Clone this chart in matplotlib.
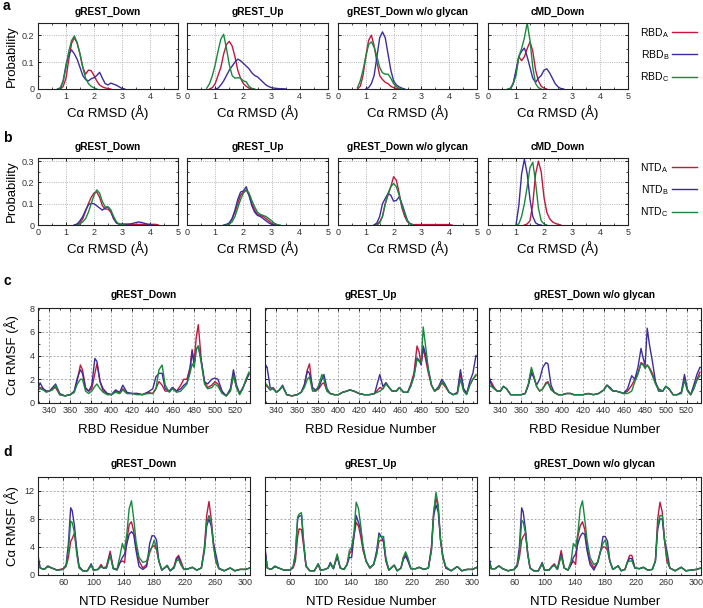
import numpy as np
import matplotlib
matplotlib.use("Agg")
import matplotlib.pyplot as plt
from matplotlib.ticker import MultipleLocator

plt.rcParams['font.family'] = ['Liberation Sans', 'DejaVu Sans']

RED = '#c4163f'
BLUE = '#3b2d9e'
GREEN = '#17893c'

# ---------------- RMSD distributions (a: RBD, b: NTD) ----------------
titles_ab = ['gREST_Down', 'gREST_Up', 'gREST_Down w/o glycan', 'cMD_Down']
rmsd_x_a = np.round(np.arange(0.7, 3.65, 0.1), 1)
rmsd_x_b = np.round(np.arange(1.0, 4.55, 0.1), 1)

# panel a, values from 0.7 on, padded with zeros
a_red = [
    [0, 0, 0.01, 0.04, 0.11, 0.17, 0.19, 0.17, 0.13, 0.08, 0.055, 0.07, 0.068, 0.05, 0.03, 0.015, 0.008, 0.004, 0.002],
    [0, 0, 0.005, 0.02, 0.05, 0.08, 0.13, 0.165, 0.177, 0.16, 0.12, 0.07, 0.04, 0.02, 0.01, 0.003],
    [0, 0.01, 0.05, 0.12, 0.18, 0.2, 0.16, 0.1, 0.05, 0.035, 0.025, 0.02, 0.01, 0.005, 0.002],
    [0, 0, 0.02, 0.06, 0.12, 0.105, 0.12, 0.15, 0.175, 0.14, 0.07, 0.03, 0.01, 0.003],
]
a_blue = [
    [0, 0.002, 0.03, 0.09, 0.13, 0.145, 0.13, 0.11, 0.08, 0.05, 0.035, 0.03, 0.038, 0.042, 0.05, 0.062,
     0.04, 0.02, 0.015, 0.022, 0.018, 0.014, 0.008, 0.002],
    [0, 0, 0, 0, 0.003, 0.015, 0.03, 0.05, 0.07, 0.085, 0.1, 0.111, 0.105, 0.095, 0.085, 0.075, 0.06,
     0.05, 0.045, 0.035, 0.025, 0.015, 0.009, 0.005, 0.003, 0.002, 0.001, 0.001],
    [0, 0, 0, 0, 0.005, 0.02, 0.05, 0.12, 0.19, 0.212, 0.19, 0.13, 0.07, 0.03, 0.015, 0.008, 0.003],
    [0, 0, 0.02, 0.07, 0.12, 0.14, 0.152, 0.12, 0.08, 0.04, 0.025, 0.04, 0.05, 0.07, 0.075, 0.06, 0.04,
     0.02, 0.008, 0.002],
]
a_green = [
    [0, 0.005, 0.03, 0.08, 0.14, 0.18, 0.197, 0.17, 0.13, 0.08, 0.04, 0.02, 0.01, 0.004],
    [0.003, 0.02, 0.05, 0.09, 0.14, 0.185, 0.203, 0.15, 0.09, 0.05, 0.04, 0.042, 0.04, 0.03, 0.027, 0.01, 0.002],
    [0.005, 0.03, 0.07, 0.12, 0.165, 0.175, 0.155, 0.12, 0.08, 0.06, 0.055, 0.055, 0.04, 0.02, 0.008, 0.002],
    [0, 0.003, 0.02, 0.05, 0.12, 0.15, 0.19, 0.245, 0.18, 0.08, 0.02, 0.005],
]

# panel b, values from 1.0 on
b_red = [
    [0, 0, 0, 0, 0.003, 0.01, 0.03, 0.065, 0.1, 0.13, 0.15, 0.156, 0.13, 0.09, 0.075, 0.075, 0.06, 0.03,
     0.01, 0.004] + [0.003] * 13,
    [0, 0, 0, 0, 0, 0.008, 0.03, 0.06, 0.1, 0.14, 0.155, 0.165, 0.14, 0.1, 0.07, 0.05, 0.045, 0.04, 0.03,
     0.02, 0.008, 0.002],
    [0, 0, 0, 0, 0.005, 0.015, 0.04, 0.1, 0.14, 0.18, 0.227, 0.21, 0.15, 0.08, 0.04, 0.015, 0.005] + [0.002] * 14,
    [0, 0, 0, 0, 0.005, 0.02, 0.1, 0.24, 0.3, 0.25, 0.13, 0.06, 0.03, 0.015, 0.008, 0.003],
]
b_blue = [
    [0, 0, 0, 0, 0.005, 0.02, 0.04, 0.07, 0.095, 0.102, 0.1, 0.09, 0.08, 0.07, 0.08, 0.085, 0.07, 0.03,
     0.01, 0.004, 0.004, 0.004, 0.004, 0.005, 0.008, 0.012, 0.014, 0.012, 0.008, 0.004, 0.002],
    [0, 0, 0, 0, 0.003, 0.01, 0.03, 0.07, 0.12, 0.155, 0.16, 0.18, 0.14, 0.09, 0.06, 0.045, 0.04, 0.03,
     0.02, 0.01, 0.003],
    [0, 0, 0, 0, 0.01, 0.04, 0.1, 0.125, 0.148, 0.14, 0.112, 0.115, 0.133, 0.1, 0.06, 0.02, 0.005],
    [0, 0.09, 0.24, 0.31, 0.24, 0.12, 0.04, 0.01, 0.002],
]
b_green = [
    [0, 0, 0, 0, 0, 0.005, 0.015, 0.03, 0.06, 0.1, 0.14, 0.165, 0.15, 0.11, 0.085, 0.085, 0.07, 0.04,
     0.015, 0.005, 0.001],
    [0, 0, 0, 0, 0, 0.004, 0.015, 0.04, 0.08, 0.12, 0.15, 0.165, 0.15, 0.115, 0.085, 0.06, 0.05, 0.045,
     0.04, 0.03, 0.02, 0.008, 0.002],
    [0, 0, 0, 0, 0, 0.01, 0.04, 0.1, 0.15, 0.18, 0.195, 0.18, 0.14, 0.09, 0.05, 0.02, 0.005],
    [0, 0.005, 0.04, 0.1, 0.18, 0.27, 0.295, 0.2, 0.08, 0.02, 0.005],
]

# ---------------- RMSF (c: RBD, d: NTD) ----------------
titles_cd = ['gREST_Down', 'gREST_Up', 'gREST_Down w/o glycan']
rbd_res = [329, 331, 334, 337, 340, 343, 346, 350, 355, 360,
           364, 367, 370, 372, 375, 378, 381, 384, 386, 389,
           392, 396, 400, 404, 408, 411, 415, 420, 425, 430,
           435, 440, 443, 446, 449, 452, 456, 459, 463, 467,
           470, 473, 476, 478, 480, 482, 484, 487, 490, 493,
           497, 500, 503, 507, 511, 515, 518, 521, 524, 527,
           530, 533]
c_red = [
    [1.2, 1.3, 1.2, 1.0, 1.0, 1.2, 1.3, 0.7, 0.6, 0.7, 0.9, 1.9, 3.2, 2.8, 1.3, 1.0, 1.2, 2.5, 3.3, 1.8,
     1.0, 0.8, 0.7, 1.0, 0.8, 1.2, 0.8, 0.8, 0.8, 0.7, 0.9, 0.8, 1.2, 1.8, 1.5, 1.0, 1.0, 1.3, 1.0, 1.5,
     2.0, 2.0, 3.0, 4.5, 3.5, 5.5, 6.6, 3.5, 1.8, 1.3, 1.5, 1.8, 1.6, 0.9, 0.6, 1.0, 2.4, 1.3, 0.8, 1.3,
     1.8, 2.5],
    [1.5, 1.4, 1.1, 1.3, 0.9, 1.1, 1.4, 0.7, 0.6, 0.7, 0.9, 1.5, 2.8, 3.3, 1.1, 1.0, 1.2, 1.6, 1.7, 1.0,
     0.8, 0.7, 0.7, 0.9, 1.0, 1.1, 1.0, 0.8, 0.7, 0.7, 0.8, 1.3, 1.2, 1.7, 1.3, 1.0, 1.0, 1.3, 0.9, 0.9,
     1.6, 2.5, 4.8, 4.3, 3.3, 4.6, 3.8, 2.5, 1.5, 1.0, 1.2, 1.7, 1.4, 0.9, 0.7, 0.8, 2.5, 1.2, 0.8, 1.5,
     2.0, 2.3],
    [1.8, 1.8, 1.3, 1.0, 1.0, 1.4, 1.2, 0.7, 0.7, 0.7, 0.8, 1.5, 2.8, 2.3, 1.4, 1.0, 1.2, 1.7, 1.8, 1.2,
     0.9, 0.7, 0.7, 0.8, 0.8, 0.7, 0.7, 0.7, 0.8, 0.7, 0.8, 1.1, 1.5, 1.3, 1.0, 1.0, 0.9, 0.8, 1.0, 1.5,
     2.0, 2.5, 3.4, 3.3, 3.0, 3.2, 3.0, 2.5, 1.7, 1.2, 1.0, 1.4, 1.2, 0.7, 0.7, 0.9, 2.0, 1.1, 0.7, 1.2,
     2.0, 2.6],
]
c_blue = [
    [1.2, 1.7, 1.2, 1.0, 1.0, 1.3, 1.6, 0.8, 0.6, 0.7, 1.0, 2.1, 2.8, 2.5, 1.2, 1.0, 1.5, 3.75, 3.5, 1.8,
     1.2, 0.8, 0.7, 1.1, 0.9, 1.5, 0.9, 0.8, 0.8, 0.7, 0.9, 1.2, 2.2, 2.5, 2.5, 1.2, 1.0, 1.3, 1.0, 1.2,
     1.5, 1.7, 2.8, 4.3, 3.2, 4.5, 4.8, 3.5, 1.8, 1.6, 2.0, 2.1, 2.0, 1.0, 0.6, 1.2, 2.8, 1.5, 0.8, 1.2,
     1.9, 2.4],
    [3.3, 3.0, 1.3, 1.2, 0.9, 1.1, 1.5, 0.7, 0.6, 0.7, 0.9, 1.5, 2.7, 2.5, 1.3, 1.1, 1.3, 2.0, 2.4, 1.2,
     0.8, 0.7, 0.7, 0.9, 1.0, 1.1, 1.0, 0.8, 0.7, 0.7, 0.8, 2.4, 1.4, 1.7, 1.3, 1.0, 1.0, 1.3, 0.9, 0.9,
     1.5, 2.3, 3.8, 3.6, 3.2, 4.8, 4.2, 2.8, 1.5, 1.0, 1.4, 2.0, 1.6, 0.9, 0.7, 0.9, 2.8, 1.2, 0.8, 1.8,
     2.5, 4.0],
    [2.3, 1.6, 1.2, 1.0, 1.0, 1.4, 1.2, 0.7, 0.7, 0.7, 0.8, 1.5, 2.5, 2.2, 1.5, 2.0, 3.0, 3.4, 3.3, 1.5,
     0.9, 0.7, 0.7, 0.8, 0.8, 0.7, 0.7, 0.7, 0.8, 0.7, 0.8, 1.1, 1.5, 1.3, 1.0, 1.0, 0.9, 0.8, 1.2, 2.3,
     2.0, 3.0, 4.6, 3.8, 3.2, 6.3, 5.0, 3.5, 1.8, 1.0, 1.0, 1.4, 1.2, 0.7, 0.7, 0.9, 2.4, 1.1, 0.7, 1.5,
     2.4, 3.0],
]
c_green = [
    [1.1, 1.2, 1.1, 0.9, 1.0, 1.1, 1.5, 0.7, 0.6, 0.7, 0.9, 1.6, 2.0, 2.0, 1.0, 0.8, 1.0, 1.4, 1.6, 1.2,
     0.9, 0.7, 0.7, 0.9, 0.8, 1.1, 0.8, 0.8, 0.7, 0.7, 0.8, 0.8, 1.2, 2.8, 3.2, 1.5, 0.9, 1.2, 0.9, 1.0,
     1.3, 1.6, 2.5, 3.3, 3.0, 4.5, 4.8, 3.3, 1.6, 1.2, 1.3, 1.6, 1.4, 0.8, 0.6, 1.0, 2.3, 1.3, 0.7, 1.2,
     2.0, 2.6],
    [1.7, 1.5, 1.1, 1.2, 0.9, 1.1, 1.4, 0.7, 0.6, 0.7, 0.9, 1.3, 2.0, 2.2, 1.0, 1.0, 1.5, 2.4, 2.0, 1.0,
     0.8, 0.7, 0.7, 0.9, 1.0, 1.1, 1.0, 0.8, 0.7, 0.7, 0.8, 1.0, 1.2, 1.6, 1.3, 1.0, 1.0, 1.3, 0.9, 0.9,
     1.4, 2.2, 3.7, 3.5, 3.4, 6.4, 5.0, 2.8, 1.5, 1.0, 1.3, 1.8, 1.5, 0.9, 0.7, 0.8, 2.0, 1.0, 0.7, 1.5,
     2.0, 2.4],
    [1.5, 1.4, 1.2, 1.0, 1.0, 1.4, 1.2, 0.7, 0.7, 0.7, 0.8, 1.6, 3.0, 2.4, 1.4, 1.0, 1.2, 1.6, 1.7, 1.1,
     0.9, 0.7, 0.7, 0.8, 0.8, 0.7, 0.7, 0.7, 0.8, 0.7, 0.8, 1.1, 1.5, 1.2, 1.0, 1.0, 0.9, 0.8, 0.8, 1.0,
     1.8, 2.4, 3.3, 3.2, 2.9, 3.2, 2.9, 2.3, 1.6, 1.1, 1.0, 1.4, 1.2, 0.7, 0.7, 0.8, 1.9, 1.0, 0.7, 1.2,
     1.9, 2.3],
]

ntd_res = [27, 30, 35, 40, 45, 52, 60, 64, 67, 70, 72, 75, 78, 81, 86, 92, 97, 100, 106, 110,
           113, 117, 122, 126, 131, 135, 138, 141, 144, 147, 150, 153, 156, 160, 165, 170, 174, 177, 180, 183,
           186, 190, 197, 201, 206, 209, 212, 215, 219, 225, 230, 236, 242, 246, 249, 252, 255, 258, 261, 265,
           272, 280, 286, 293, 300, 306]
d_red = [
    [1.5, 1.0, 0.8, 1.2, 1.0, 0.7, 0.9, 1.2, 2.5, 4.8, 5.2, 6.0, 3.5, 1.2, 0.6, 0.6, 1.4, 0.7, 0.8, 1.5,
     1.0, 1.2, 3.4, 1.0, 0.8, 1.8, 2.0, 1.8, 5.0, 7.2, 7.6, 6.2, 4.0, 2.0, 1.0, 1.5, 3.2, 4.0, 4.2, 3.6,
     2.0, 0.7, 1.3, 0.6, 1.2, 2.4, 2.8, 2.0, 0.8, 0.9, 1.1, 0.7, 1.0, 4.0, 8.5, 10.5, 8.0, 4.5, 2.0, 0.9,
     0.6, 1.0, 0.6, 0.8, 0.8, 1.0],
    [3.5, 1.0, 0.8, 1.2, 1.0, 0.7, 0.7, 1.0, 2.0, 5.5, 6.6, 6.5, 4.0, 1.2, 0.6, 0.6, 1.5, 0.7, 0.8, 1.0,
     1.6, 0.9, 2.8, 1.0, 0.8, 1.5, 3.0, 3.5, 5.5, 7.5, 7.0, 5.5, 3.5, 2.0, 1.0, 1.5, 3.0, 4.8, 5.0, 4.8,
     2.0, 0.7, 1.4, 0.6, 1.0, 2.5, 3.0, 2.2, 0.9, 0.9, 1.1, 0.8, 1.0, 4.0, 9.0, 11.0, 9.5, 5.0, 2.8, 1.0,
     0.6, 1.2, 0.6, 0.8, 0.8, 1.1],
    [2.0, 0.9, 0.9, 1.3, 0.9, 0.6, 0.8, 1.2, 2.5, 5.0, 5.5, 6.0, 3.0, 1.0, 0.6, 0.6, 1.6, 0.7, 0.7, 1.3,
     1.6, 0.8, 3.5, 1.0, 0.7, 1.5, 2.0, 1.5, 5.5, 7.0, 7.6, 6.5, 4.0, 2.0, 1.0, 1.8, 3.5, 4.0, 4.0, 3.5,
     2.0, 0.8, 1.3, 0.6, 0.8, 1.8, 2.8, 2.8, 1.0, 0.9, 1.1, 0.7, 0.8, 2.0, 8.0, 10.4, 9.0, 5.0, 2.0, 1.0,
     0.6, 1.1, 0.6, 0.7, 0.8, 1.0],
]
d_blue = [
    [2.8, 1.0, 0.8, 1.3, 1.0, 0.7, 0.8, 1.5, 4.5, 9.6, 9.2, 7.0, 3.5, 1.2, 0.6, 0.6, 1.6, 0.7, 0.8, 1.2,
     1.0, 1.0, 3.0, 0.9, 0.7, 1.8, 2.5, 3.0, 4.5, 5.8, 6.2, 5.8, 3.5, 1.2, 0.8, 1.2, 4.5, 5.6, 5.6, 5.0,
     2.0, 0.7, 1.3, 0.6, 1.0, 2.2, 2.6, 1.5, 0.8, 0.9, 1.1, 0.7, 1.0, 3.5, 7.0, 8.0, 7.0, 4.5, 3.0, 1.0,
     0.6, 1.0, 0.6, 0.8, 0.8, 1.0],
    [4.0, 1.0, 0.8, 1.2, 1.0, 0.7, 0.7, 1.2, 3.0, 8.0, 8.4, 8.5, 4.5, 1.3, 0.6, 0.6, 1.6, 0.7, 0.8, 1.0,
     1.8, 0.9, 2.6, 1.0, 0.8, 1.5, 2.5, 2.5, 5.5, 8.5, 7.5, 6.5, 4.0, 2.0, 1.0, 1.5, 3.5, 6.0, 5.5, 4.8,
     2.2, 0.7, 1.4, 0.6, 1.0, 2.2, 2.7, 2.0, 0.9, 0.9, 1.1, 0.8, 1.0, 3.5, 8.5, 10.0, 9.0, 5.0, 2.5, 1.0,
     0.6, 1.2, 0.6, 0.8, 0.8, 1.1],
    [2.5, 0.9, 0.9, 1.3, 0.9, 0.6, 0.8, 1.5, 4.0, 9.6, 9.0, 6.5, 3.0, 1.0, 0.6, 0.6, 1.8, 0.7, 0.7, 1.2,
     1.4, 0.8, 3.0, 1.0, 0.7, 1.5, 2.5, 3.0, 4.5, 5.5, 6.0, 5.8, 3.5, 1.5, 0.7, 1.8, 3.5, 5.5, 5.5, 4.8,
     2.0, 0.8, 1.3, 0.6, 0.8, 1.8, 2.4, 2.3, 1.0, 0.9, 1.1, 0.7, 0.8, 2.0, 6.5, 8.0, 8.0, 5.0, 3.5, 1.0,
     0.6, 1.1, 0.6, 0.7, 0.8, 1.0],
]
d_green = [
    [1.5, 1.0, 0.8, 1.2, 1.0, 0.7, 0.8, 1.3, 3.5, 7.7, 7.5, 6.0, 3.0, 1.0, 0.6, 0.6, 1.4, 0.7, 0.8, 1.2,
     1.0, 1.0, 2.8, 0.9, 0.8, 2.8, 4.5, 3.6, 6.0, 9.5, 10.6, 8.0, 4.8, 2.5, 1.8, 2.0, 3.5, 4.0, 5.0, 3.8,
     2.0, 0.7, 1.4, 0.6, 1.0, 2.0, 2.2, 1.5, 0.8, 0.9, 1.1, 0.7, 1.0, 3.5, 7.5, 8.5, 7.5, 4.0, 2.0, 0.9,
     0.6, 1.0, 0.6, 0.8, 0.8, 1.0],
    [3.0, 1.0, 0.8, 1.3, 1.0, 0.7, 0.7, 1.2, 3.0, 8.3, 8.7, 8.9, 4.5, 1.3, 0.6, 0.6, 1.6, 0.7, 0.8, 1.0,
     1.6, 0.9, 3.0, 1.0, 0.8, 1.5, 3.5, 4.0, 6.0, 10.4, 9.5, 7.0, 4.0, 2.0, 1.0, 1.5, 3.0, 5.5, 5.5, 5.5,
     2.5, 0.7, 1.4, 0.6, 1.0, 2.5, 3.3, 2.5, 0.9, 0.9, 1.1, 0.8, 1.0, 3.5, 9.0, 11.8, 10.0, 5.0, 2.5, 1.2,
     0.6, 1.2, 0.6, 0.8, 0.8, 1.1],
    [2.0, 0.9, 0.9, 1.3, 0.9, 0.6, 0.8, 1.3, 3.0, 7.8, 7.6, 6.0, 3.0, 1.0, 0.6, 0.6, 1.6, 0.7, 0.7, 1.2,
     1.4, 0.8, 2.7, 1.0, 0.7, 2.0, 4.5, 4.0, 6.0, 9.5, 10.6, 8.0, 5.0, 2.5, 1.5, 1.8, 3.5, 4.5, 5.0, 3.8,
     2.0, 0.8, 1.3, 0.6, 0.8, 1.8, 2.0, 2.0, 1.0, 0.9, 1.1, 0.7, 0.8, 2.0, 7.0, 8.5, 8.5, 5.0, 2.5, 1.0,
     0.6, 1.1, 0.6, 0.7, 0.8, 1.0],
]


def pad(vals, n):
    v = np.array(list(vals) + [0.0] * (n - len(vals)), dtype=float)
    # hide the runs of zeros lying on the axis, keep one zero next to the curve
    nz = np.nonzero(v)[0]
    out = np.full(n, np.nan)
    lo, hi = max(nz[0] - 1, 0), min(nz[-1] + 1, n - 1)
    out[lo:hi + 1] = v[lo:hi + 1]
    return out


W, H = 703, 608
fig = plt.figure(figsize=(W / 100, H / 100), dpi=100)


def box(l, t, r, b):
    return [l / W, 1 - b / H, (r - l) / W, (b - t) / H]


def style(ax, dash=':'):
    for s in ax.spines.values():
        s.set_linewidth(0.8)
        s.set_color('#222222')
        s.set_zorder(5)
    ax.tick_params(which='both', direction='in', top=True, right=True,
                   labelsize=6.5, labelcolor='#333333', pad=2.5)
    ax.tick_params(which='major', length=2.5, width=0.6)
    ax.tick_params(which='minor', length=1.5, width=0.5)
    ax.grid(True, which='major', ls=dash, lw=0.6, color='#a0a0a0')


def fig_text(x, y, s, **kw):
    fig.text(x / W, 1 - y / H, s, **kw)


lab_kw = dict(fontsize=9.5, ha='center', va='center')
ttl_kw = dict(fontsize=7.3, fontweight='bold', ha='center', va='center')

# rows a and b
cols_ab = [(38, 178), (187, 328), (338, 477), (488, 628)]
rows_ab = [(23, 89, rmsd_x_a, a_red, a_blue, a_green, 0.245, [0, 0.1, 0.2], ['0', '0.1', '0.2'], 'RBD'),
           (158, 225, rmsd_x_b, b_red, b_blue, b_green, 0.315, [0, 0.1, 0.2, 0.3], ['0', '0.1', '0.2', '0.3'], 'NTD')]
for top, bot, xs, reds, blues, greens, ymax, yt, ytl, dom in rows_ab:
    for k, (l, r) in enumerate(cols_ab):
        ax = fig.add_axes(box(l, top, r, bot))
        style(ax)
        n = len(xs)
        hr, = ax.plot(xs, pad(reds[k], n), color=RED, lw=1.0)
        hb, = ax.plot(xs, pad(blues[k], n), color=BLUE, lw=1.0)
        hg, = ax.plot(xs, pad(greens[k], n), color=GREEN, lw=1.0)
        ax.set_xlim(0, 5)
        ax.set_ylim(0, ymax)
        ax.set_xticks([0, 1, 2, 3, 4, 5])
        ax.xaxis.set_minor_locator(MultipleLocator(0.5))
        ax.set_yticks(yt)
        ax.yaxis.set_minor_locator(MultipleLocator(0.05))
        if k == 0:
            ax.set_yticklabels(ytl)
        else:
            ax.set_yticklabels([])
        fig_text((l + r) / 2, top - 11, titles_ab[k], **ttl_kw)
        fig_text((l + r) / 2, bot + 24, 'C\u03b1 RMSD (\u00c5)', **lab_kw)
    fig_text(12, (top + bot) / 2, 'Probability', rotation=90, **lab_kw)
    fig.legend([hr, hb, hg],
               [dom + r'$_\mathregular{A}$', dom + r'$_\mathregular{B}$', dom + r'$_\mathregular{C}$'],
               loc='center left', bbox_to_anchor=(636 / W, 1 - (top + 32) / H),
               frameon=False, markerfirst=False, fontsize=7.5, handlelength=2.4,
               handletextpad=0.3, labelspacing=0.8, borderaxespad=0)

# rows c and d
cols_cd = [(38, 250), (265, 477), (489, 701)]
rows_cd = [(308, 403, rbd_res, c_red, c_blue, c_green, (329, 534), 340, 20, 10, 8, 1,
            [0, 2, 4, 6, 8], 'RBD Residue Number'),
           (477, 575, ntd_res, d_red, d_blue, d_green, (27, 306), 60, 40, 20, 14, 2,
            [0, 4, 8, 12], 'NTD Residue Number')]
for top, bot, xs, reds, blues, greens, xl, x0, xmaj, xmin, ymax, ymin, yt, xlab in rows_cd:
    for k, (l, r) in enumerate(cols_cd):
        ax = fig.add_axes(box(l, top, r, bot))
        style(ax, dash=(0, (2.5, 2)))
        ax.plot(xs, reds[k], color=RED, lw=1.0)
        ax.plot(xs, blues[k], color=BLUE, lw=1.0)
        ax.plot(xs, greens[k], color=GREEN, lw=1.0)
        ax.set_xlim(*xl)
        ax.set_ylim(0, ymax)
        ax.set_xticks(np.arange(x0, xl[1] + 1, xmaj))
        ax.xaxis.set_minor_locator(MultipleLocator(xmin))
        ax.set_yticks(yt)
        ax.yaxis.set_minor_locator(MultipleLocator(ymin))
        if k != 0:
            ax.set_yticklabels([])
        fig_text((l + r) / 2, top - 13, titles_cd[k], **ttl_kw)
        fig_text((l + r) / 2, bot + 27, xlab, **lab_kw)
    fig_text(12, (top + bot) / 2, 'C\u03b1 RMSF (\u00c5)', rotation=90, **lab_kw)

for s, y in [('a', 6), ('b', 138), ('c', 281), ('d', 452)]:
    fig_text(3, y, s, fontsize=10, fontweight='bold', ha='left', va='center')

fig.savefig('out.png', dpi=100)
